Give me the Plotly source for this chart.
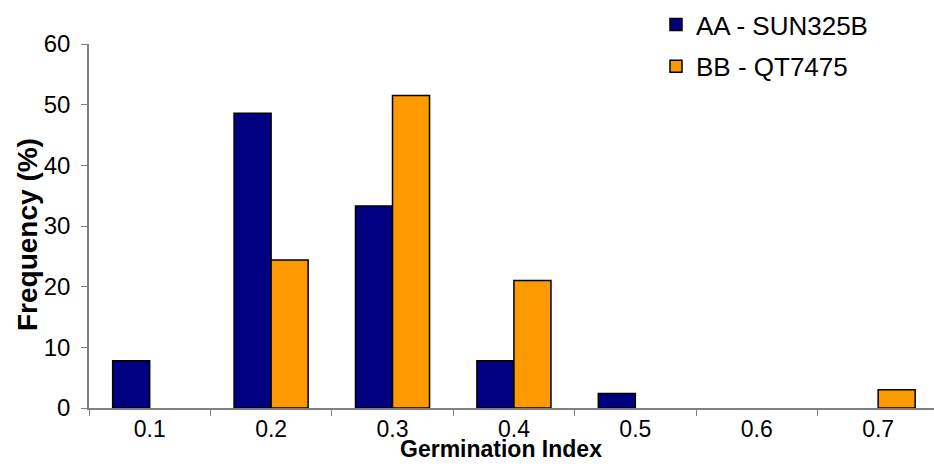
import plotly.graph_objects as go

categories = ["0.1", "0.2", "0.3", "0.4", "0.5", "0.6", "0.7"]
aa_values = [7.8, 48.6, 33.3, 7.8, 2.4, 0, 0]
bb_values = [0, 24.4, 51.5, 21.0, 0, 0, 3.0]
y_ticks = [0, 10, 20, 30, 40, 50, 60]

FONT = "Liberation Sans, Arial, sans-serif"


def visible(vals):
    # zero-height bars are not drawn in the reference
    return [v if v else None for v in vals]


fig = go.Figure()
fig.add_trace(go.Bar(
    x=categories, y=visible(aa_values), name="AA - SUN325B",
    marker=dict(color="#000080", line=dict(color="black", width=1.5)),
    legendgroup="a",
))
fig.add_trace(go.Bar(
    x=categories, y=visible(bb_values), name="BB - QT7475",
    marker=dict(color="#FF9900", line=dict(color="black", width=1.5)),
    legendgroup="b",
))

fig.update_layout(
    width=934, height=464,
    margin=dict(l=89, r=0, t=44, b=56),
    paper_bgcolor="white", plot_bgcolor="white",
    barmode="group", bargap=0.39, bargroupgap=0,
    font=dict(family=FONT, size=24, color="black"),
    showlegend=True,
    legend=dict(x=0.671, y=1.118, xanchor="left", yanchor="top",
                bgcolor="rgba(0,0,0,0)", tracegroupgap=5,
                traceorder="grouped",
                font=dict(family=FONT, size=26, color="black"),
                itemwidth=30),
    xaxis=dict(
        type="category", range=[-0.5, 6.46],
        showline=True, linecolor="#808080", linewidth=1.5,
        ticks="outside", tickson="boundaries", ticklen=6, tickcolor="#808080",
        tickfont=dict(family=FONT, size=23, color="black"),
        ticklabelstandoff=0,
        showgrid=False, zeroline=False,
    ),
    yaxis=dict(
        range=[0, 60], tickvals=y_ticks,
        showline=True, linecolor="#808080", linewidth=1.5,
        ticks="outside", ticklen=6, tickcolor="#808080",
        tickfont=dict(family=FONT, size=24, color="black"),
        ticklabelstandoff=6,
        showgrid=False, zeroline=False,
    ),
)

fig.add_annotation(text="<b>Germination Index</b>", xref="paper", yref="paper",
                   x=0.488, y=-0.114, xanchor="center", yanchor="middle",
                   showarrow=False, font=dict(family=FONT, size=23, color="black"))
fig.add_annotation(text="<b>Frequency (%)</b>", xref="paper", yref="paper",
                   x=-0.0734, y=0.478, xanchor="center", yanchor="middle",
                   textangle=-90, showarrow=False,
                   font=dict(family=FONT, size=28, color="black"))

fig.write_html("out.html")
